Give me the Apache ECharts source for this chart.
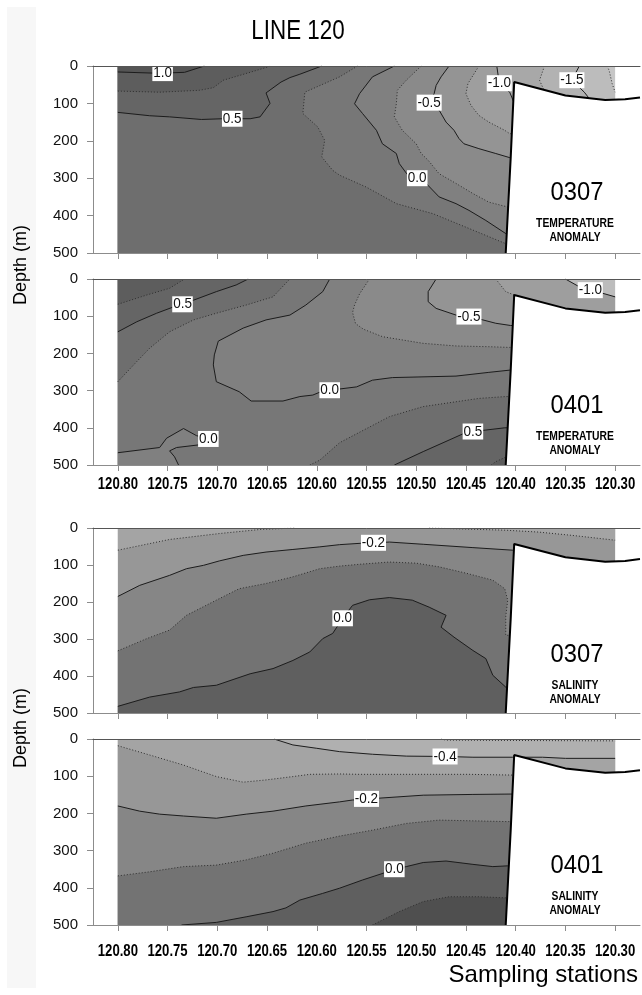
<!DOCTYPE html>
<html>
<head>
<meta charset="utf-8">
<script src="https://cdn.jsdelivr.net/npm/echarts@6/dist/echarts.min.js"></script>
<style>
  html, body { margin: 0; padding: 0; background: #ffffff; }
  #chart { width: 642px; height: 995px; }
</style>
</head>
<body>
<div id="chart"></div>
<script>
// ---------------------------------------------------------------
// Axes: sampling stations (longitude) and depth ticks
// ---------------------------------------------------------------
const STATIONS = [120.80, 120.75, 120.70, 120.65, 120.60, 120.55, 120.50, 120.45, 120.40, 120.35, 120.30];
const DEPTH_TICKS = [0, 100, 200, 300, 400, 500];

// Sea floor along the line: [longitude, depth m]
const BOTTOM = [[120.41, 500], [120.405, 245], [120.4015, 43], [120.35, 79], [120.31, 91], [120.29, 89], [120.275, 84]];

// Contour levels
const TEMP_LEVELS = [-1.75, -1.5, -1.25, -1.0, -0.75, -0.5, -0.25, 0, 0.25, 0.5, 0.75, 1.0];
const SAL_LEVELS = [-0.5, -0.4, -0.3, -0.2, -0.1, 0, 0.1];

// ---------------------------------------------------------------
// Temperature anomaly, 0307  (isolines as [longitude, depth])
// ---------------------------------------------------------------
const T0307_P100 = [[120.80, 16], [120.765, 19], [120.755, 19], [120.733, 17], [120.713, 0]];
const T0307_P075 = [[120.80, 67], [120.758, 70], [120.718, 65], [120.704, 58], [120.694, 38], [120.671, 20], [120.646, 0]];
const T0307_P050 = [[120.80, 124], [120.768, 133], [120.748, 136], [120.716, 143], [120.694, 141], [120.685, 141], [120.667, 141], [120.657, 136], [120.647, 100], [120.651, 72], [120.636, 43], [120.627, 31], [120.617, 22], [120.595, 0]];
const T0307_P025 = [[120.559, 0], [120.577, 29], [120.612, 70], [120.614, 127], [120.599, 163], [120.592, 199], [120.595, 243], [120.584, 279], [120.577, 292], [120.550, 324], [120.520, 368], [120.483, 395], [120.450, 431], [120.410, 475]];
const T0307_Z000 = [[120.522, 0], [120.544, 29], [120.557, 74], [120.562, 101], [120.554, 127], [120.540, 172], [120.534, 208], [120.520, 234], [120.517, 261], [120.509, 290], [120.499, 300], [120.490, 314], [120.477, 350], [120.460, 368], [120.447, 386], [120.430, 413], [120.410, 448]];
const T0307_M025 = [[120.495, 0], [120.510, 38], [120.519, 65], [120.520, 101], [120.522, 136], [120.514, 172], [120.500, 208], [120.495, 234], [120.488, 252], [120.477, 288], [120.460, 314], [120.443, 341], [120.427, 364], [120.408, 377]];
const T0307_M050 = [[120.467, 0], [120.475, 29], [120.480, 52], [120.482, 74], [120.487, 98], [120.477, 118], [120.470, 150], [120.462, 172], [120.457, 194], [120.452, 208], [120.437, 221], [120.420, 234], [120.406, 245]];
const T0307_M075 = [[120.437, 0], [120.448, 47], [120.450, 74], [120.445, 105], [120.437, 132], [120.427, 150], [120.411, 172], [120.406, 181]];
const T0307_M100 = [[120.419, 0], [120.4165, 46], [120.406, 70], [120.402, 96]];
const T0307_M125 = [[120.371, 0], [120.376, 38], [120.370, 74], [120.365, 83]];
const T0307_M150 = [[120.336, 0], [120.3435, 38], [120.331, 70], [120.326, 87]];
const T0307_M175 = [[120.308, 0], [120.306, 12], [120.303, 47], [120.30, 70]];
const T0307_LABELS = [[120.755, 19, '1.0'], [120.685, 141, '0.5'], [120.499, 300, '0.0'], [120.487, 98, '-0.5'], [120.4165, 46, '-1.0'], [120.3435, 38, '-1.5']];

// ---------------------------------------------------------------
// Temperature anomaly, 0401
// ---------------------------------------------------------------
const T0401_M100 = [[120.350, 0], [120.336, 21], [120.325, 30], [120.313, 38], [120.30, 48]];
const T0401_M075 = [[120.420, 0], [120.410, 34], [120.4015, 43], [120.395, 60]];
const T0401_M050 = [[120.480, 0], [120.488, 34], [120.488, 61], [120.480, 79], [120.460, 97], [120.447, 101], [120.433, 110], [120.420, 119], [120.405, 125]];
const T0401_M025 = [[120.547, 0], [120.557, 40], [120.562, 70], [120.564, 90], [120.561, 120], [120.553, 135], [120.534, 155], [120.493, 173], [120.460, 180], [120.427, 182], [120.406, 184]];
const T0401_Z000 = [[120.587, 0], [120.594, 34], [120.611, 70], [120.627, 97], [120.651, 110], [120.674, 132], [120.699, 167], [120.703, 204], [120.704, 231], [120.701, 276], [120.678, 303], [120.666, 328], [120.634, 328], [120.617, 316], [120.604, 312], [120.594, 301], [120.587, 299], [120.560, 290], [120.544, 272], [120.524, 265], [120.460, 261], [120.427, 251], [120.406, 245]];
const T0401_Z000_POCKET = [[120.80, 467], [120.758, 453], [120.751, 428], [120.734, 402], [120.721, 421], [120.709, 430], [120.719, 446], [120.741, 453], [120.748, 462], [120.743, 478], [120.739, 500]];
const T0401_P025_TOP = [[120.80, 276], [120.781, 222], [120.768, 186], [120.748, 142], [120.724, 110], [120.701, 92], [120.671, 70], [120.644, 48], [120.636, 25], [120.627, 0]];
const T0401_P050_TOP = [[120.80, 142], [120.781, 115], [120.761, 92], [120.744, 75], [120.735, 68], [120.724, 57], [120.701, 34], [120.681, 16], [120.669, 0]];
const T0401_P075_TOP = [[120.80, 68], [120.771, 43], [120.748, 25], [120.733, 0]];
const T0401_P025_BOT = [[120.607, 500], [120.597, 487], [120.577, 440], [120.557, 412], [120.527, 370], [120.493, 343], [120.460, 330], [120.437, 321], [120.410, 316]];
const T0401_P050_BOT = [[120.522, 500], [120.493, 464], [120.467, 433], [120.452, 415], [120.443, 410], [120.430, 406], [120.411, 400]];
const T0401_P075_BOT = [[120.4245, 500], [120.420, 491], [120.411, 480]];
const T0401_LABELS = [[120.735, 68, '0.5'], [120.587, 299, '0.0'], [120.709, 430, '0.0'], [120.447, 101, '-0.5'], [120.443, 410, '0.5'], [120.325, 30, '-1.0']];

// ---------------------------------------------------------------
// Salinity anomaly, 0307
// ---------------------------------------------------------------
const S0307_M030_W = [[120.80, 60], [120.748, 31], [120.698, 15], [120.657, 4], [120.621, 0]];
const S0307_M030_E = [[120.487, 0], [120.410, 6], [120.377, 11], [120.343, 20], [120.30, 33]];
const S0307_M020 = [[120.80, 185], [120.778, 155], [120.748, 128], [120.731, 110], [120.714, 101], [120.698, 89], [120.674, 74], [120.651, 65], [120.624, 58], [120.597, 51], [120.577, 45], [120.554, 41], [120.543, 40], [120.527, 38], [120.493, 44], [120.443, 53], [120.403, 60]];
const S0307_M010 = [[120.80, 332], [120.771, 299], [120.748, 276], [120.731, 236], [120.701, 195], [120.678, 164], [120.651, 150], [120.624, 132], [120.597, 110], [120.577, 103], [120.557, 98], [120.527, 92], [120.500, 95], [120.477, 105], [120.450, 122], [120.423, 141], [120.411, 164], [120.408, 195], [120.410, 240], [120.410, 290]];
const S0307_Z000 = [[120.80, 482], [120.768, 457], [120.738, 443], [120.724, 431], [120.701, 425], [120.667, 394], [120.644, 380], [120.624, 358], [120.607, 335], [120.594, 299], [120.584, 285], [120.574, 244], [120.564, 209], [120.547, 194], [120.527, 188], [120.504, 195], [120.487, 214], [120.470, 236], [120.475, 268], [120.462, 295], [120.443, 331], [120.430, 353], [120.423, 398], [120.410, 430]];
const S0307_LABELS = [[120.543, 40, '-0.2'], [120.574, 244, '0.0']];

// ---------------------------------------------------------------
// Salinity anomaly, 0401
// ---------------------------------------------------------------
const S0401_M050 = [[120.475, 0], [120.470, 3], [120.40, 4], [120.30, 5]];
const S0401_M040 = [[120.643, 0], [120.641, 3], [120.624, 16], [120.600, 25], [120.577, 34], [120.544, 41], [120.510, 46], [120.471, 47], [120.443, 49], [120.403, 49], [120.373, 49], [120.350, 52], [120.30, 52]];
const S0401_M030 = [[120.80, 18], [120.768, 43], [120.734, 70], [120.701, 101], [120.674, 116], [120.651, 110], [120.624, 101], [120.607, 95], [120.577, 94], [120.557, 95], [120.447, 95], [120.403, 97]];
const S0401_M020 = [[120.80, 180], [120.778, 194], [120.758, 202], [120.734, 207], [120.701, 213], [120.671, 202], [120.644, 194], [120.611, 180], [120.577, 169], [120.564, 164], [120.550, 161], [120.537, 159], [120.493, 151], [120.443, 149], [120.405, 148]];
const S0401_M010 = [[120.80, 368], [120.768, 357], [120.734, 343], [120.701, 339], [120.671, 325], [120.644, 307], [120.611, 280], [120.577, 261], [120.544, 245], [120.510, 227], [120.477, 218], [120.443, 220], [120.409, 222]];
const S0401_Z000 = [[120.736, 500], [120.701, 493], [120.671, 478], [120.644, 464], [120.631, 454], [120.617, 433], [120.594, 415], [120.577, 401], [120.554, 379], [120.530, 358], [120.522, 350], [120.510, 343], [120.493, 332], [120.470, 328], [120.443, 337], [120.423, 343], [120.408, 341]];
const S0401_P010 = [[120.544, 500], [120.517, 464], [120.493, 437], [120.467, 424], [120.437, 424], [120.410, 427]];
const S0401_LABELS = [[120.471, 47, '-0.4'], [120.550, 161, '-0.2'], [120.522, 350, '0.0']];

// ---------------------------------------------------------------
// Styles
// ---------------------------------------------------------------
const FONT = "'Liberation Sans',Arial,sans-serif";
const NARROW = 0.82;   // horizontal squeeze giving a condensed face
const TEMP_FILLS = ['#c6c6c6', '#bcbcbc', '#b2b2b2', '#a8a8a8', '#9e9e9e', '#949494', '#8a8a8a', '#808080', '#777777', '#6e6e6e', '#656565', '#5d5d5d', '#555555'];
const SAL_FILLS = ['#bababa', '#b0b0b0', '#a4a4a4', '#979797', '#868686', '#737373', '#5f5f5f', '#4f4f4f'];

// Section domain in data units
const LON_W = 120.80, LON_E = 120.30, D_MAX = 500;
const AX_MIN = 120.275, AX_MAX = 120.825;
// hidden continuation of isolines that run into the slope
const SLOPE_LON = 120.395;

// Panels, top to bottom
const PANELS = [
  { code: '0307', kind: 'TEMPERATURE', levels: TEMP_LEVELS, fills: TEMP_FILLS, base: -2, labels: T0307_LABELS,
    tickLabels: false, top: 66, height: 187,
    contours: [
      { level: -1.75, pts: T0307_M175, close: 'cw' },
      { level: -1.5, pts: T0307_M150, close: 'cw' },
      { level: -1.25, pts: T0307_M125, close: 'cw' },
      { level: -1.0, pts: T0307_M100, close: 'cw' },
      { level: -0.75, pts: T0307_M075, close: 'cw' },
      { level: -0.5, pts: T0307_M050, close: 'cw' },
      { level: -0.25, pts: T0307_M025, close: 'cw' },
      { level: 0, pts: T0307_Z000, close: 'cw' },
      { level: 0.25, pts: T0307_P025, close: 'cw' },
      { level: 0.5, pts: T0307_P050, close: 'ccw' },
      { level: 0.75, pts: T0307_P075, close: 'ccw' },
      { level: 1.0, pts: T0307_P100, close: 'ccw' }
    ] },
  { code: '0401', kind: 'TEMPERATURE', levels: TEMP_LEVELS, fills: TEMP_FILLS, base: -1.5, labels: T0401_LABELS,
    tickLabels: true, labelGap: 19.5, top: 279, height: 186,
    contours: [
      { level: -1.0, pts: T0401_M100, close: 'cw' },
      { level: -0.75, pts: T0401_M075, close: 'cw' },
      { level: -0.5, pts: T0401_M050, close: 'cw' },
      { level: -0.25, pts: T0401_M025, close: 'cw' },
      { level: 0, pts: T0401_Z000, close: 'cw' },
      { level: 0, pts: T0401_Z000_POCKET, close: 'cw', side: 'low' },
      { level: 0.25, pts: T0401_P025_TOP, close: 'ccw' },
      { level: 0.25, pts: T0401_P025_BOT, close: 'cw' },
      { level: 0.5, pts: T0401_P050_TOP, close: 'ccw' },
      { level: 0.5, pts: T0401_P050_BOT, close: 'cw' },
      { level: 0.75, pts: T0401_P075_TOP, close: 'ccw' },
      { level: 0.75, pts: T0401_P075_BOT, close: 'cw' }
    ] },
  { code: '0307', kind: 'SALINITY', levels: SAL_LEVELS, fills: SAL_FILLS, base: -0.25, labels: S0307_LABELS,
    tickLabels: false, top: 528, height: 185,
    contours: [
      { level: -0.3, pts: S0307_M030_W, close: 'ccw', side: 'low' },
      { level: -0.3, pts: S0307_M030_E, close: 'ccw', side: 'low' },
      { level: -0.2, pts: S0307_M020, close: 'cw' },
      { level: -0.1, pts: S0307_M010, close: 'cw' },
      { level: 0, pts: S0307_Z000, close: 'cw' }
    ] },
  { code: '0401', kind: 'SALINITY', levels: SAL_LEVELS, fills: SAL_FILLS, base: -0.6, labels: S0401_LABELS,
    tickLabels: true, labelGap: 26.5, top: 739, height: 186,
    contours: [
      { level: -0.5, pts: S0401_M050, close: 'cw' },
      { level: -0.4, pts: S0401_M040, close: 'cw' },
      { level: -0.3, pts: S0401_M030, close: 'cw' },
      { level: -0.2, pts: S0401_M020, close: 'cw' },
      { level: -0.1, pts: S0401_M010, close: 'cw' },
      { level: 0, pts: S0401_Z000, close: 'cw' },
      { level: 0.1, pts: S0401_P010, close: 'cw' }
    ] }
];

// ---------------------------------------------------------------
// Geometry helpers: close an isoline around the section frame
// ---------------------------------------------------------------
const EPS = 1e-9;
// position along the frame, clockwise on screen from the top-left corner
function frameT(p) {
  const lon = p[0], d = p[1], span = LON_W - LON_E;
  if (Math.abs(d) < EPS) return (LON_W - lon) / span;
  if (Math.abs(lon - LON_E) < EPS) return 1 + d / D_MAX;
  if (Math.abs(d - D_MAX) < EPS) return 2 + (lon - LON_E) / span;
  if (Math.abs(lon - LON_W) < EPS) return 3 + (D_MAX - d) / D_MAX;
  return null;
}
const CORNERS = [[LON_W, 0], [LON_E, 0], [LON_E, D_MAX], [LON_W, D_MAX]];
function cornerAt(k) { return CORNERS[((k % 4) + 4) % 4]; }

// isolines that stop at the slope continue underneath it down to the frame
function extendPath(pts) {
  const last = pts[pts.length - 1];
  if (frameT(last) !== null) return pts.slice();
  if (last[0] < 120.40) return pts.concat([[last[0], D_MAX]]);
  return pts.concat([[SLOPE_LON, last[1]], [SLOPE_LON, D_MAX]]);
}

function closeRing(path, dir) {
  const tS = frameT(path[0]);
  const tE = frameT(path[path.length - 1]);
  const out = path.slice();
  if (dir === 'cw') {
    const target = tS > tE ? tS : tS + 4;
    for (let k = Math.floor(tE) + 1; k < target; k++) out.push(cornerAt(k));
  } else {
    const target = tS < tE ? tS : tS - 4;
    for (let k = Math.ceil(tE) - 1; k > target; k--) out.push(cornerAt(k));
  }
  return out;
}

function bandFill(levels, fills, v) {
  let i = 0;
  while (i < levels.length && v > levels[i]) i++;
  return fills[i];
}

function isSolid(panel, level) {
  if (panel.kind === 'TEMPERATURE') return Math.abs(level * 2 - Math.round(level * 2)) < 1e-6;
  return Math.round(Math.abs(level) * 10) % 2 === 0;
}

// ---------------------------------------------------------------
// Build option
// ---------------------------------------------------------------
const grids = [], xAxes = [], yAxes = [], series = [], graphics = [];

function condensedText(x, y, text, font, extra) {
  return Object.assign({
    type: 'text', x: x, y: y, scaleX: NARROW, z: 100,
    style: { text: text, font: font, fill: '#000', align: 'center', verticalAlign: 'middle' }
  }, extra || {});
}

PANELS.forEach((panel, pi) => {
  grids.push({ left: 93, right: 2, top: panel.top, height: panel.height });

  xAxes.push({
    type: 'value', gridIndex: pi, position: 'bottom', min: AX_MIN, max: AX_MAX, inverse: true, z: 6,
    axisLine: { show: true, onZero: false, lineStyle: { color: '#8c8c8c', width: 1 } },
    axisTick: { show: true, inside: false, length: 6, customValues: STATIONS, lineStyle: { color: '#8c8c8c' } },
    axisLabel: { show: false },
    splitLine: { show: false }
  });
  // frame line along the sea surface
  xAxes.push({
    type: 'value', gridIndex: pi, position: 'top', min: AX_MIN, max: AX_MAX, inverse: true, z: 6,
    axisLine: { show: true, onZero: false, lineStyle: { color: '#555555', width: 1 } },
    axisTick: { show: false }, axisLabel: { show: false }, splitLine: { show: false }
  });
  yAxes.push({
    type: 'value', gridIndex: pi, inverse: true, min: 0, max: D_MAX, interval: 100,
    axisLine: { show: true, onZero: false, lineStyle: { color: '#8c8c8c' } },
    axisTick: { show: true, length: 6, lineStyle: { color: '#8c8c8c' } },
    axisLabel: { margin: 15, fontFamily: FONT, fontSize: 15, color: '#111',
      formatter: v => (DEPTH_TICKS.indexOf(v) >= 0 ? String(v) : '') },
    splitLine: { show: false }
  });

  const xi = pi * 2;

  // filled bands, painted from the lowest class upward
  const polys = [{ pts: CORNERS.slice(), fill: bandFill(panel.levels, panel.fills, panel.base) }];
  panel.contours.forEach(c => {
    const path = extendPath(c.pts);
    const v = c.level + (c.side === 'low' ? -1e-6 : 1e-6);
    polys.push({ pts: closeRing(path, c.close), fill: bandFill(panel.levels, panel.fills, v) });
  });
  series.push({
    type: 'custom', xAxisIndex: xi, yAxisIndex: pi, z: 1, silent: true,
    data: polys.map(p => p.pts[0]),
    renderItem: (params, api) => {
      const p = polys[params.dataIndex];
      return { type: 'polygon', shape: { points: p.pts.map(q => api.coord(q)) }, style: { fill: p.fill } };
    }
  });

  // isolines
  panel.contours.forEach(c => {
    const solid = isSolid(panel, c.level);
    series.push({
      type: 'line', xAxisIndex: xi, yAxisIndex: pi, z: 2, silent: true,
      data: extendPath(c.pts), symbol: 'none', smooth: false,
      lineStyle: solid ? { color: '#1c1c1c', width: 1 } : { color: '#2e2e2e', width: 1, type: [1, 2] }
    });
  });

  // land / below the sea floor
  const land = BOTTOM.concat([[AX_MIN, D_MAX]]);
  series.push({
    type: 'custom', xAxisIndex: xi, yAxisIndex: pi, z: 3, silent: true,
    data: [land[0]],
    renderItem: (params, api) => ({
      type: 'polygon', shape: { points: land.map(q => api.coord(q)) }, style: { fill: '#ffffff' }
    })
  });
  series.push({
    type: 'line', xAxisIndex: xi, yAxisIndex: pi, z: 4, silent: true,
    data: BOTTOM, symbol: 'none', lineStyle: { color: '#000000', width: 2 }
  });

  // isoline values
  series.push({
    type: 'custom', xAxisIndex: xi, yAxisIndex: pi, z: 5, silent: true,
    data: panel.labels,
    renderItem: (params, api) => {
      const pt = api.coord([api.value(0), api.value(1)]);
      return {
        type: 'text', x: pt[0], y: pt[1], scaleX: 0.9,
        style: {
          text: panel.labels[params.dataIndex][2], fill: '#111',
          font: '15px ' + FONT, align: 'center', verticalAlign: 'middle',
          backgroundColor: '#ffffff', padding: [1, 1, 0, 1]
        }
      };
    }
  });

  // panel tag
  graphics.push(condensedText(577, panel.top + 127, panel.code, '25px ' + FONT, { scaleX: 0.95 }));
  graphics.push(condensedText(575, panel.top + 158, panel.kind, 'bold 12px ' + FONT, { scaleX: 0.86 }));
  graphics.push(condensedText(575, panel.top + 172, 'ANOMALY', 'bold 12px ' + FONT, { scaleX: 0.86 }));
});

// page furniture
graphics.unshift({ type: 'rect', shape: { x: 7, y: 7, width: 29, height: 981 }, style: { fill: '#f7f7f7' }, z: -10 });
graphics.push(condensedText(298, 31, 'LINE 120', '28px ' + FONT, { scaleX: 0.8 }));
graphics.push({ type: 'text', x: 21, y: 265, rotation: Math.PI / 2, z: 100, style: {
  text: 'Depth (m)', font: '18px ' + FONT, fill: '#000', align: 'center', verticalAlign: 'middle' } });
graphics.push({ type: 'text', x: 21, y: 728, rotation: Math.PI / 2, z: 100, style: {
  text: 'Depth (m)', font: '18px ' + FONT, fill: '#000', align: 'center', verticalAlign: 'middle' } });
graphics.push({ type: 'text', x: 638, y: 975, z: 100, style: {
  text: 'Sampling stations', font: '24px ' + FONT, fill: '#000', align: 'right', verticalAlign: 'middle' } });

const chart = echarts.init(document.getElementById('chart'), null, { renderer: 'canvas' });
const baseOption = {
  animation: false,
  backgroundColor: '#ffffff',
  grid: grids,
  xAxis: xAxes,
  yAxis: yAxes,
  series: series
};
chart.setOption(baseOption);

// station labels in a condensed bold face, placed through the station axis
PANELS.forEach((panel, pi) => {
  if (!panel.tickLabels) return;
  STATIONS.forEach(lon => {
    const px = chart.convertToPixel({ xAxisIndex: pi * 2 }, lon);
    graphics.push(condensedText(px, panel.top + panel.height + panel.labelGap, lon.toFixed(2), 'bold 16px ' + FONT));
  });
});
chart.setOption({ graphic: graphics.map(g => Object.assign({ silent: true }, g)) });
</script>
</body>
</html>
